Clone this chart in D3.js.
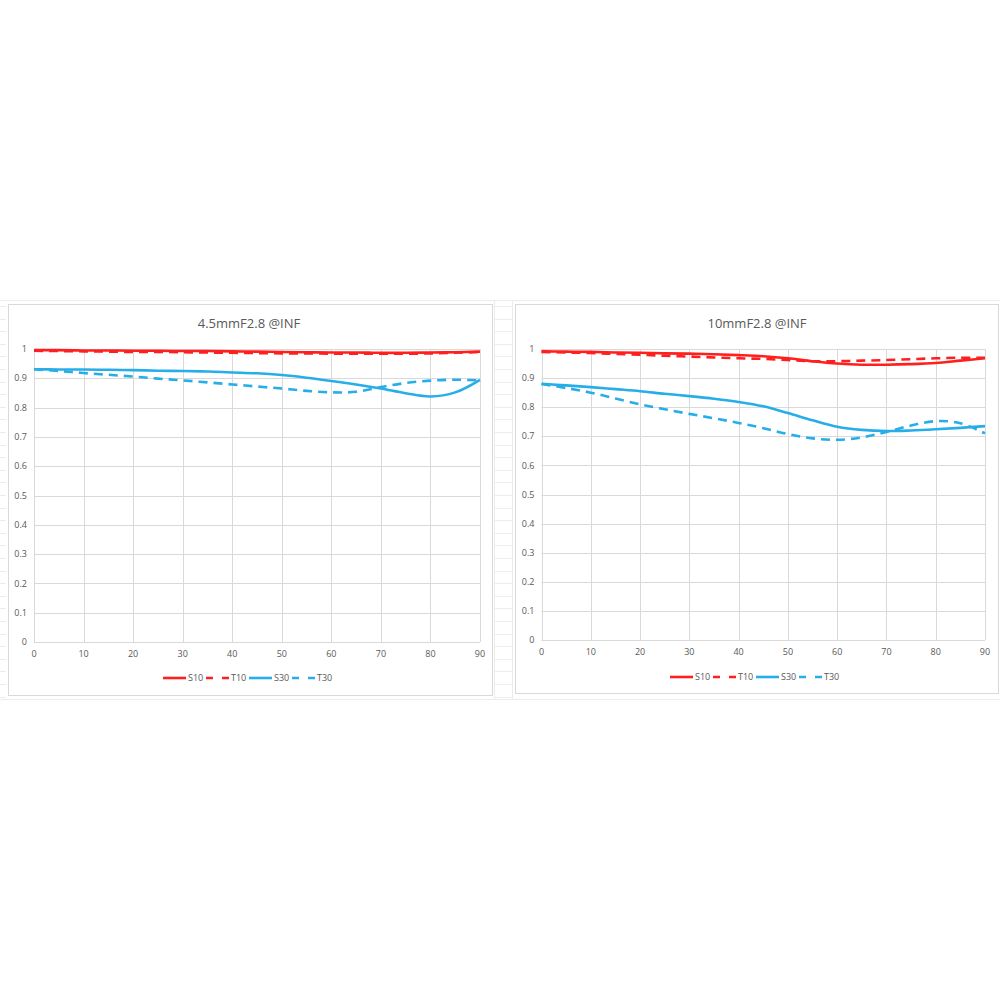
<!DOCTYPE html>
<html><head><meta charset="utf-8">
<script src="https://cdn.jsdelivr.net/npm/d3@7"></script>
<style>body{margin:0;background:#fff}svg{display:block}</style>
</head><body>
<svg id="c" width="1000" height="1000"></svg>
<script>
const xValues = [0,5,10,15,20,25,30,35,40,45,50,55,60,65,70,75,80,85,90];
const xTicks = [0,10,20,30,40,50,60,70,80,90];
const yTicks = [0,0.1,0.2,0.3,0.4,0.5,0.6,0.7,0.8,0.9,1];
const seriesNames = ["S10","T10","S30","T30"];

const titleLeft = "4.5mmF2.8 @INF";
const s10Left = [0.996,0.996,0.995,0.995,0.994,0.994,0.993,0.993,0.992,0.991,0.990,0.989,0.988,0.988,0.987,0.987,0.988,0.989,0.991];
const t10Left = [0.994,0.993,0.992,0.991,0.990,0.990,0.989,0.988,0.987,0.986,0.985,0.985,0.984,0.984,0.984,0.984,0.985,0.987,0.990];
const s30Left = [0.931,0.930,0.930,0.929,0.928,0.926,0.925,0.923,0.920,0.917,0.911,0.902,0.891,0.879,0.865,0.849,0.838,0.852,0.895];
const t30Left = [0.931,0.925,0.918,0.912,0.906,0.899,0.893,0.886,0.879,0.872,0.865,0.857,0.852,0.854,0.870,0.884,0.892,0.895,0.893];

const titleRight = "10mmF2.8 @INF";
const s10Right = [0.992,0.991,0.990,0.988,0.987,0.985,0.984,0.982,0.979,0.975,0.968,0.958,0.950,0.946,0.946,0.948,0.952,0.960,0.968];
const t10Right = [0.990,0.988,0.986,0.983,0.980,0.977,0.974,0.971,0.968,0.966,0.962,0.958,0.958,0.960,0.962,0.965,0.968,0.970,0.970];
const s30Right = [0.880,0.875,0.869,0.862,0.855,0.846,0.838,0.829,0.818,0.803,0.780,0.755,0.733,0.722,0.718,0.720,0.724,0.729,0.735];
const t30Right = [0.880,0.866,0.850,0.830,0.810,0.793,0.777,0.762,0.746,0.728,0.708,0.693,0.688,0.696,0.715,0.737,0.752,0.745,0.710];

const RED = "#ff1f1f", BLUE = "#27aee9";
const styles = [
  {color: RED, dash: null},
  {color: RED, dash: "9,6"},
  {color: BLUE, dash: null},
  {color: BLUE, dash: "9,6"}
];

const svg = d3.select("#c");
const FONT = "'Open Sans', 'Liberation Sans', sans-serif";

// faint spreadsheet background cells
const bg = svg.append("g");
bg.append("line").attr("x1",0).attr("x2",1000).attr("y1",300.5).attr("y2",300.5).attr("stroke","#ececec");
bg.append("line").attr("x1",0).attr("x2",1000).attr("y1",699.5).attr("y2",699.5).attr("stroke","#ececec");
d3.range(306, 700, 12.6).forEach(y => {
  bg.append("line").attr("x1",0).attr("x2",6).attr("y1",Math.round(y)+0.5).attr("y2",Math.round(y)+0.5).attr("stroke","#ededed");
  bg.append("line").attr("x1",494).attr("x2",512).attr("y1",Math.round(y)+0.5).attr("y2",Math.round(y)+0.5).attr("stroke","#ededed");
});
bg.append("line").attr("x1",494.5).attr("x2",494.5).attr("y1",300).attr("y2",700).attr("stroke","#ececec");
bg.append("line").attr("x1",512.5).attr("x2",512.5).attr("y1",300).attr("y2",700).attr("stroke","#ececec");

function drawChart(cfg) {
  const g = svg.append("g");
  g.append("rect").attr("x",cfg.box[0]+0.5).attr("y",cfg.box[1]+0.5)
    .attr("width",cfg.box[2]).attr("height",cfg.box[3])
    .attr("fill","#fff").attr("stroke","#d9d9d9");

  const x = d3.scaleLinear().domain([0,90]).range([cfg.x0, cfg.x1]);
  const y = d3.scaleLinear().domain([0,1]).range([cfg.y0, cfg.y1]);

  // horizontal gridlines
  g.append("g").selectAll("line").data(yTicks).join("line")
    .attr("x1", x(0)).attr("x2", x(90))
    .attr("y1", d => Math.round(y(d))+0.5).attr("y2", d => Math.round(y(d))+0.5)
    .attr("stroke", "#d9d9d9");
  // vertical gridlines
  g.append("g").selectAll("line").data(xTicks).join("line")
    .attr("y1", y(0)).attr("y2", y(1))
    .attr("x1", d => Math.round(x(d))+0.5).attr("x2", d => Math.round(x(d))+0.5)
    .attr("stroke", "#d9d9d9");

  // y tick labels
  g.append("g").selectAll("text").data(yTicks).join("text")
    .attr("x", x(0) - 7).attr("y", d => y(d)).attr("dy","0.35em")
    .attr("text-anchor","end").attr("font-family",FONT).attr("font-size",9)
    .attr("fill","#595959").text(d => d3.format("")(+d.toFixed(1)));
  // x tick labels
  g.append("g").selectAll("text").data(xTicks).join("text")
    .attr("x", d => x(d)).attr("y", y(0) + 15)
    .attr("text-anchor","middle").attr("font-family",FONT).attr("font-size",9)
    .attr("fill","#595959").text(d => d);

  // title
  g.append("text").attr("x", cfg.titleX).attr("y", 328)
    .attr("text-anchor","middle").attr("font-family",FONT).attr("font-size",13)
    .attr("fill","#595959").text(cfg.title);

  const line = d3.line().x((d,i) => x(xValues[i])).y(d => y(d)).curve(d3.curveCatmullRom.alpha(0.5));
  cfg.series.forEach((s, k) => {
    g.append("path").attr("d", line(s)).attr("fill","none")
      .attr("stroke", styles[k].color).attr("stroke-width", 2.6)
      .attr("stroke-dasharray", styles[k].dash);
  });

  // legend
  const lg = g.append("g").attr("transform", `translate(${cfg.legendX},${cfg.legendY})`);
  let off = 0;
  seriesNames.forEach((n, k) => {
    lg.append("line").attr("x1", off).attr("x2", off + 23).attr("y1",0).attr("y2",0)
      .attr("stroke", styles[k].color).attr("stroke-width", 2.6)
      .attr("stroke-dasharray", styles[k].dash ? "7,9" : null);
    lg.append("text").attr("x", off + 25).attr("y", 0).attr("dy","0.35em")
      .attr("font-family",FONT).attr("font-size",9).attr("fill","#595959").text(n);
    off += 43;
  });
}

drawChart({box:[8,304,484,391], x0:34, x1:480, y0:642, y1:349, title:titleLeft, titleX:249,
  series:[s10Left,t10Left,s30Left,t30Left], legendX:163, legendY:678});
drawChart({box:[515,304,483,389], x0:541.5, x1:985, y0:640, y1:349, title:titleRight, titleX:757,
  series:[s10Right,t10Right,s30Right,t30Right], legendX:670, legendY:677});
</script>
</body></html>
